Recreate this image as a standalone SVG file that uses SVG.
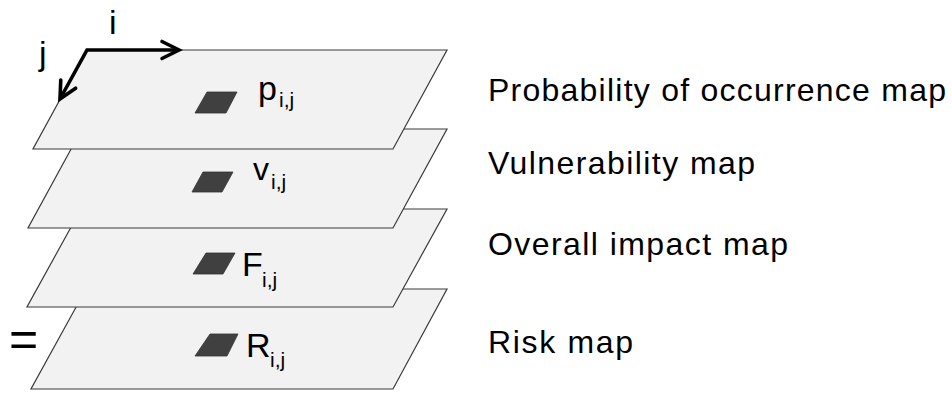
<svg xmlns="http://www.w3.org/2000/svg" width="952" height="394" viewBox="0 0 952 394">
<style>
.plane{fill:#f2f2f2;stroke:#3a3a3a;stroke-width:1.2;stroke-linejoin:miter}
.cell{fill:#404040;stroke:#333;stroke-width:0.8;stroke-linejoin:round}
text{font-family:"Liberation Sans",Arial,sans-serif;fill:#000}
.lbl{font-size:32px}
.sym{font-size:34px}
.sub{font-size:21px}
.ax{font-size:34px}
.axis{fill:none;stroke:#000;stroke-width:3.6;stroke-linejoin:miter}
</style>
<defs>
<marker id="chev" markerUnits="userSpaceOnUse" markerWidth="30" markerHeight="30" refX="0" refY="0" orient="auto-start-reverse" style="overflow:visible">
<path d="M-17,-8.5 L0,0 L-17,8.5" fill="none" stroke="#000" stroke-width="3.6" stroke-linecap="round" stroke-linejoin="miter"/>
</marker>
</defs>
<rect width="952" height="394" fill="#ffffff"/>

<g id="layer-risk">
<polygon class="plane" points="86,289 447,289 393,389 31,389"/>
<polygon class="cell" points="210,334 238,334 227,356 195,356"/>
<text class="sym" x="246" y="357">R<tspan class="sub" x="270" y="367">i,j</tspan></text>
</g>
<g id="layer-impact">
<polygon class="plane" points="81,209 447,209 393,307 27,307"/>
<polygon class="cell" points="206,253 235,253 223,274 193,274"/>
<text class="sym" x="242" y="276">F<tspan class="sub" x="262" y="287">i,j</tspan></text>
</g>
<g id="layer-vulnerability">
<polygon class="plane" points="82,129 447,129 393,228 28,228"/>
<polygon class="cell" points="203,172 233,172 222,192 192,192"/>
<text class="sym" x="253" y="180" style="font-size:32px">v<tspan class="sub" x="271" y="189">i,j</tspan></text>
</g>
<g id="layer-probability">
<polygon class="plane" points="87,50 447,50 393,149 33,149"/>
<polygon class="cell" points="207,92 237,92 226,113 195,113"/>
<text class="sym" x="258" y="100">p<tspan class="sub" x="279" y="107">i,j</tspan></text>
</g>

<g id="connectors">
<path class="axis" d="M179,50 L87,50 L60,99" marker-start="url(#chev)" marker-end="url(#chev)"/>
</g>
<g id="axis-labels">
<text class="ax" x="109" y="34">i</text>
<text class="ax" x="39" y="65">j</text>
</g>

<g id="equals">
<text x="9" y="356" style="font-size:50px">=</text>
</g>

<g id="legend">
<text class="lbl" x="488" y="101" textLength="458" lengthAdjust="spacing">Probability of occurrence map</text>
<text class="lbl" x="488" y="174" textLength="267" lengthAdjust="spacing">Vulnerability map</text>
<text class="lbl" x="488" y="255" textLength="300" lengthAdjust="spacing">Overall impact map</text>
<text class="lbl" x="488" y="353" textLength="145" lengthAdjust="spacing">Risk map</text>
</g>
</svg>
